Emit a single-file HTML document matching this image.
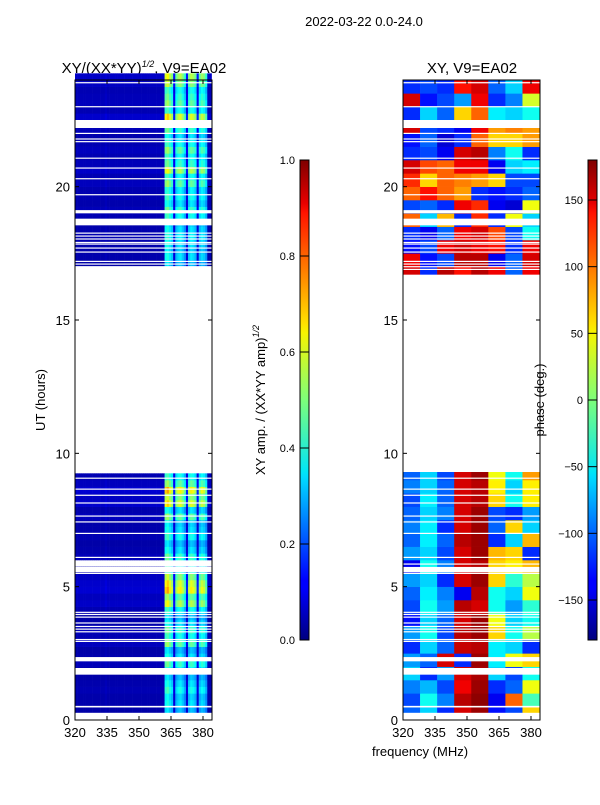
<!DOCTYPE html>
<html><head><meta charset="utf-8">
<style>
body{margin:0;background:#fff;}
svg text{font-family:"Liberation Sans","DejaVu Sans",sans-serif;fill:#000;}
</style></head>
<body>
<svg id="fig" width="600" height="800" xmlns="http://www.w3.org/2000/svg">
<defs>
<linearGradient id="jet" x1="0" y1="1" x2="0" y2="0">
<stop offset="0" stop-color="#00007f"/><stop offset="0.11" stop-color="#0000ff"/><stop offset="0.125" stop-color="#0000ff"/>
<stop offset="0.34" stop-color="#00dcff"/><stop offset="0.35" stop-color="#00e5f7"/>
<stop offset="0.5" stop-color="#7dff7a"/><stop offset="0.64" stop-color="#f7f400"/>
<stop offset="0.66" stop-color="#ffe000"/><stop offset="0.89" stop-color="#ff1300"/>
<stop offset="0.91" stop-color="#e80000"/><stop offset="1" stop-color="#7f0000"/>
</linearGradient>
</defs>
<text x="364" y="26" font-size="13" text-anchor="middle">2022-03-22 0.0-24.0</text>
<text x="144" y="73" font-size="15" text-anchor="middle">XY/(XX*YY)<tspan dy="-6" font-size="9" font-style="italic">1/2</tspan><tspan dy="6">, V9=EA02</tspan></text>
<text x="472" y="73" font-size="15" text-anchor="middle">XY, V9=EA02</text>
<g id="ampPlot"></g>
<g id="phPlot"></g>
<g id="axes"></g>
<text transform="translate(45,400) rotate(-90)" font-size="13" text-anchor="middle">UT (hours)</text>
<text x="420" y="756" font-size="13" text-anchor="middle">frequency (MHz)</text>
<rect x="300" y="160" width="9" height="480" fill="url(#jet)" stroke="#000" stroke-width="1"/>
<rect x="588" y="160" width="9" height="480" fill="url(#jet)" stroke="#000" stroke-width="1"/>
<text transform="translate(265,400) rotate(-90)" font-size="13" text-anchor="middle">XY amp. / (XX*YY amp)<tspan dy="-6" font-size="9" font-style="italic">1/2</tspan></text>
<text transform="translate(544,400) rotate(-90)" font-size="13" text-anchor="middle">phase (deg.)</text>
<g id="cbticks"></g>
</svg>
<script>
// ---- data ----
const freqTicks=[320,335,350,365,380];
const hourTicks=[0,5,10,15,20];
const ampCbTicks=[0.0,0.2,0.4,0.6,0.8,1.0];
const phCbTicks=[-150,-100,-50,0,50,100,150];
// amplitude: per-channel (1 MHz from 320) profile
const ampChan=[0.05,0.05,0.05,0.05,0.05,0.05,0.05,0.05,0.05,0.05,0.05,0.05,0.05,0.05,0.06,0.05,0.05,0.05,0.05,0.05,
0.05,0.05,0.05,0.05,0.05,0.05,0.05,0.05,0.05,0.05,0.05,0.05,0.05,0.05,0.05,0.05,0.05,0.05,0.05,0.05,
0.05,0.05,0.42,0.45,0.4,0.36,0.1,0.34,0.38,0.4,0.36,0.3,0.1,0.36,0.4,0.38,0.34,0.1,0.34,0.38,0.36,0.3,0.05,0.05];
// per 0.25h row gain (null = no data)
const ampRow=[null,0.8,0.9,0.85,1.0,0.9,0.8,0.95,1.1,0.9,0.8,1.2,1.0,1.1,0.9,0.8,1.0,1.4,1.2,1.6,1.5,1.3,1.0,null,1.1,0.9,0.8,1.0,0.9,0.85,1.2,0.9,1.5,1.3,1.6,1.2,1.0,
null,null,null,null,null,null,null,null,null,null,null,null,null,null,null,null,null,null,null,null,null,null,null,null,null,null,null,null,null,null,null,
0.8,0.9,0.85,0.9,0.95,0.9,0.85,1.0,1.1,0.9,1.0,0.95,1.2,1.0,1.4,1.1,1.0,1.2,1.0,0.9,1.1,1.3,1.5,1.0,1.2,1.1,1.0,1.3,1.4];
// phase: 8 MHz columns, 0.5h rows (null = no data)
const phRow=[
[-100,-60,-120,150,170,-130,-110,60],
[-110,-40,-90,160,175,-140,100,-20],
[-90,-70,-110,140,170,-120,-100,40],
[-60,-120,-80,150,165,-60,-110,-40],
[-80,-100,150,-120,170,-50,40,60],
[-120,-60,-100,155,160,-50,-60,-120],
[-80,-40,-110,160,170,60,-40,20],
[-130,-60,-100,150,170,40,-60,-40],
[-110,-40,-80,160,150,-40,-80,-30],
[-100,-50,-90,-140,160,-40,-60,40],
[-80,-60,-120,150,170,60,-30,20],
[-140,-40,-90,150,160,60,50,70],
[-80,-60,-110,150,170,70,60,-120],
[-100,-50,-100,160,170,-120,-60,70],
[-90,-50,-120,150,170,-100,60,-60],
[-100,-60,-90,150,170,-110,-120,-80],
[-110,-50,-100,150,160,60,-40,50],
[-90,-60,-100,150,160,50,-60,50],
[-100,-60,-110,150,170,40,-40,80],
null,null,null,null,null,null,null,null,null,null,null,null,null,null,
[150,-120,160,130,160,140,-100,140],
[140,-130,-110,160,160,-140,-100,150],
[-130,-110,140,150,140,130,-120,140],
[-120,-140,-100,140,150,110,-110,-40],
[100,-60,70,-120,120,-120,40,-60],
[-110,-100,-120,140,120,-140,-150,40],
[100,130,100,80,-120,-130,-120,-100],
[120,60,100,90,80,60,-110,-110],
[150,110,100,140,140,-140,-60,-50],
[-120,-110,-140,150,160,-90,-40,-120],
[-130,-100,-150,-120,100,60,60,80],
[150,-110,-120,-140,140,80,90,80],
[-120,-60,-100,60,100,-50,-60,-40],
[150,-130,-110,-80,140,-120,-90,30],
[-120,-110,-120,130,150,-100,-60,140],
[150,-120,160,130,-140,-120,-100,150]
];
// flagged (white) intervals in hours
const flags=[[0,0.27],[0.47,0.53],[1.7,1.95],[2.2,2.36],[2.93,2.97],[3.0,3.04],[3.3,3.33],[3.4,3.43],[3.5,3.53],[3.63,3.66],[3.84,3.88],[3.94,3.98],[4.02,4.06],
[5.48,5.52],[5.54,5.74],[5.83,5.87],[6.08,6.12],[6.98,7.02],[7.41,7.45],[7.63,7.67],[8.12,8.16],[8.41,8.45],[8.64,8.68],[9.05,9.09],
[9.3,16.7],
[16.88,16.92],[16.98,17.02],[17.08,17.12],[17.18,17.22],[17.53,17.57],[17.68,17.72],[17.83,17.87],[17.9,17.93],[18.02,18.06],[18.13,18.17],[18.24,18.28],
[18.55,18.8],[19.0,19.12],[19.68,19.72],[20.28,20.32],[20.68,20.72],[21.05,21.09],[21.68,21.71],[21.78,21.81],[21.98,22.02],[22.2,22.5],[22.98,23.02],[23.88,23.92]];

// ---- scales ----
const Y0=720,YH=80,HMAX=24;
function yS(h){return Y0-(h/HMAX)*(Y0-YH);}
const F0=320,FPX=128/60;
function xS(base,f){return base+(f-F0)*FPX;}
const LB=75,RB=403,PW=137;
function jet(v){v=Math.max(0,Math.min(1,v));
 const r=Math.min(1,Math.max(0,Math.min(4*v-1.5,-4*v+4.5)));
 const g=Math.min(1,Math.max(0,Math.min(4*v-0.5,-4*v+3.5)));
 const b=Math.min(1,Math.max(0,Math.min(4*v+0.5,-4*v+2.5)));
 return `rgb(${Math.round(r*255)},${Math.round(g*255)},${Math.round(b*255)})`;}
const NS='http://www.w3.org/2000/svg';
function mk(tag,attrs,parent){const e=document.createElementNS(NS,tag);for(const k in attrs)e.setAttribute(k,attrs[k]);parent.appendChild(e);return e;}

// amplitude cells
const ag=document.getElementById('ampPlot');
ampRow.forEach((g,r)=>{ if(g===null)return;
 const y1=yS(r*0.25),y2=yS((r+1)*0.25);
 ampChan.forEach((a,c)=>{
  const x1=Math.max(LB,xS(LB,F0+c)),x2=Math.min(LB+PW,xS(LB,F0+c+1));
  if(x2<=x1)return;
  const el=mk('rect',{x:x1,y:y2,width:x2-x1+0.3,height:y1-y2+0.3,fill:jet(a*g)},ag);
  
  
 });
});
// phase cells
const pg=document.getElementById('phPlot');
phRow.forEach((row,r)=>{ if(row===null)return;
 const ya=yS(r*0.5),y2=yS(Math.min(24,r*0.5+0.5));
 row.forEach((p,c)=>{
  const x1=xS(RB,F0+c*8),x2=Math.min(RB+PW,xS(RB,F0+(c+1)*8));
  const el=mk('rect',{x:x1,y:y2,width:x2-x1+0.3,height:ya-y2+0.3,fill:jet((p+180)/360)},pg);
  
  
 });
});
flags.forEach(([a,b])=>{
 [LB,RB].forEach(x=>{const el=mk('rect',{x:x,y:yS(b),width:PW,height:Math.max(1.2,yS(a)-yS(b)),fill:'#fff'},pg);
 
 });
});

// axes
const ax=document.getElementById('axes');
[LB,RB].forEach((x0,i)=>{
 const fr=mk('rect',{x:x0,y:YH,width:PW,height:Y0-YH,fill:'none',stroke:'#000','stroke-width':1},ax);
 
 
 freqTicks.forEach(f=>{const x=xS(x0,f);
  mk('line',{x1:x,x2:x,y1:Y0,y2:Y0-4,stroke:'#000'},ax);
  mk('line',{x1:x,x2:x,y1:YH,y2:YH+4,stroke:'#000'},ax);
  const t=mk('text',{x:x,y:Y0+17,'font-size':13,'text-anchor':'middle'},ax);t.textContent=f;
  
  });
 hourTicks.forEach(h=>{const y=yS(h);
  mk('line',{x1:x0,x2:x0+4,y1:y,y2:y,stroke:'#000'},ax);
  mk('line',{x1:x0+PW,x2:x0+PW-4,y1:y,y2:y,stroke:'#000'},ax);
  const t=mk('text',{x:x0-5,y:y+5,'font-size':13,'text-anchor':'end'},ax);t.textContent=h;
  
  });
});
// colorbar ticks
const cb=document.getElementById('cbticks');
ampCbTicks.forEach(v=>{const y=640-v*480;
 mk('line',{x1:300,x2:309,y1:y,y2:y,stroke:'#000'},cb);
 const t=mk('text',{x:295,y:y+4,'font-size':11,'text-anchor':'end'},cb);t.textContent=v.toFixed(1);
 
 });
phCbTicks.forEach(v=>{const y=640-(v+180)/360*480;
 mk('line',{x1:588,x2:597,y1:y,y2:y,stroke:'#000'},cb);
 const t=mk('text',{x:583,y:y+4,'font-size':11,'text-anchor':'end'},cb);t.textContent=v<0?'\u2212'+(-v):v;
 
 });
</script>
</body></html>
